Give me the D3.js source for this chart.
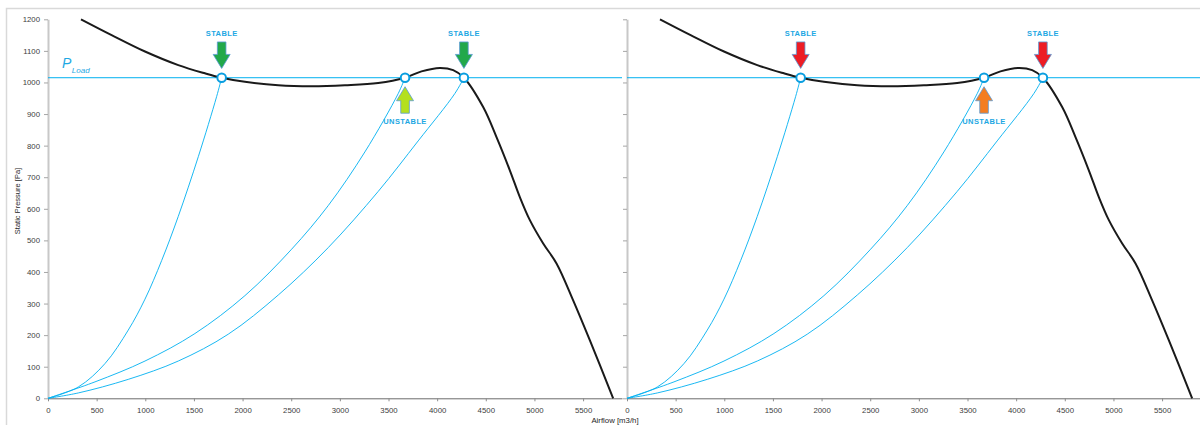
<!DOCTYPE html>
<html>
<head>
<meta charset="utf-8">
<script src="https://cdn.jsdelivr.net/npm/d3@7"></script>
<style>
  html, body { margin: 0; padding: 0; background: #fff; }
  svg { display: block; }
  text { font-family: "Liberation Sans", Arial, sans-serif; }
</style>
</head>
<body>
<svg id="chart" width="1200" height="425"></svg>
<script>
// ---------- DATA ----------
const flowTicks = [0, 500, 1000, 1500, 2000, 2500, 3000, 3500, 4000, 4500, 5000, 5500];
const pressureTicks = [0, 100, 200, 300, 400, 500, 600, 700, 800, 900, 1000, 1100, 1200];

// Fan curve (airflow m3/h, static pressure Pa)
const fanFlow =     [339, 654, 997, 1339, 1613, 1785, 2024, 2367, 2709, 3052, 3394, 3670, 3839, 4028, 4165, 4275, 4473, 4610, 4747, 4850, 4953, 5090, 5227, 5398, 5569, 5809];
const fanPressure = [1200, 1150, 1098, 1055, 1029, 1015, 1002, 991, 988, 991, 998, 1015, 1035, 1046, 1039, 1015, 922, 827, 722, 637, 564, 490, 427, 310, 184, 0];

// System (load) curves
const sys1Flow =     [0, 312, 586, 825, 997, 1168, 1339, 1545, 1733, 1785];
const sys1Pressure = [0, 36, 110, 216, 314, 436, 576, 765, 955, 1015];
const sys2Flow =     [0, 483, 997, 1510, 2024, 2504, 2880, 3257, 3600, 3670];
const sys2Pressure = [0, 52, 118, 205, 325, 472, 610, 780, 965, 1015];
const sys3Flow =     [0, 312, 825, 1339, 1853, 2367, 2880, 3394, 3805, 4182, 4275];
const sys3Pressure = [0, 17, 60, 118, 203, 327, 477, 655, 815, 965, 1015];

// Load pressure and operating points
const loadPressure = 1015;
const opFlow = [1785, 3670, 4275];
const opLabel = ["STABLE", "UNSTABLE", "STABLE"];

// Arrow colours per panel
const leftArrowColors = ["#22a84a", "#b4e01e", "#22a84a"];
const rightArrowColors = ["#ed1c24", "#f47d20", "#ed1c24"];

// ---------- DRAW ----------
const svg = d3.select("#chart");
const blue = "#00b0f0";
const plotW = 574, plotTop = 19.3, plotBottom = 398.3;

// outer frame
svg.append("rect").attr("x", 6.5).attr("y", 8.5).attr("width", 1220).attr("height", 440)
  .attr("fill", "none").attr("stroke", "#d9d9d9").attr("stroke-width", 1.5);

const y = d3.scaleLinear().domain([0, 1200]).range([plotBottom, plotTop]);

function toPts(fx, py) { return fx.map((f, i) => [f, py[i]]); }

function drawPanel(x0, showYLabels, arrowColors) {
  const x = d3.scaleLinear().domain([0, 5900]).range([x0, x0 + plotW]);
  const g = svg.append("g");

  // y axis
  const yAxis = d3.axisLeft(y).tickValues(pressureTicks).tickSize(4).tickSizeOuter(0)
    .tickFormat(showYLabels ? d3.format("d") : () => "");
  const ya = g.append("g").attr("transform", `translate(${x0},0)`).call(yAxis);
  ya.select(".domain").attr("stroke", "#c8c8c8").attr("stroke-width", 2);
  ya.selectAll(".tick line").attr("stroke", "#a6a6a6");
  ya.selectAll(".tick text").attr("x", -8).attr("fill", "#404040")
    .style("font-size", "7.8px");

  // x axis
  const xAxis = d3.axisBottom(x).tickValues(flowTicks).tickSize(3).tickSizeOuter(0)
    .tickFormat(d3.format("d"));
  const xa = g.append("g").attr("transform", `translate(0,${plotBottom})`).call(xAxis);
  xa.select(".domain").attr("stroke", "#6b6b6b").attr("stroke-width", 1);
  xa.selectAll(".tick line").attr("stroke", "#8c8c8c");
  xa.selectAll(".tick text").attr("y", 9).attr("fill", "#404040")
    .style("font-size", "7.8px");

  // load line
  g.append("line").attr("x1", x0).attr("x2", x0 + plotW)
    .attr("y1", y(loadPressure)).attr("y2", y(loadPressure))
    .attr("stroke", blue).attr("stroke-width", 1);

  // system curves
  const sysLine = d3.line().x(d => x(d[0])).y(d => y(d[1])).curve(d3.curveCatmullRom.alpha(0.5));
  [[sys1Flow, sys1Pressure], [sys2Flow, sys2Pressure], [sys3Flow, sys3Pressure]].forEach(([f, p]) => {
    g.append("path").attr("d", sysLine(toPts(f, p)))
      .attr("fill", "none").attr("stroke", blue).attr("stroke-width", 0.9);
  });

  // fan curve
  const fanLine = d3.line().x(d => x(d[0])).y(d => y(d[1])).curve(d3.curveCatmullRom.alpha(0.5));
  g.append("path").attr("d", fanLine(toPts(fanFlow, fanPressure)))
    .attr("fill", "none").attr("stroke", "#1a1a1a").attr("stroke-width", 2);

  // operating points
  g.selectAll("circle.op").data(opFlow).join("circle")
    .attr("cx", d => x(d)).attr("cy", y(loadPressure)).attr("r", 4.3)
    .attr("fill", "#fff").attr("stroke", "#0a9ee0").attr("stroke-width", 2);

  // arrows + labels
  opFlow.forEach((f, i) => {
    const cx = x(f), cy = y(loadPressure);
    const down = opLabel[i] === "STABLE";
    const sw = 4.3, hw = 8.5, hl = 14, sl = 12.5;
    let pts;
    if (down) {
      const tip = cy - 9.3;
      pts = [[cx - sw, tip - hl - sl], [cx + sw, tip - hl - sl], [cx + sw, tip - hl], [cx + hw, tip - hl],
             [cx, tip], [cx - hw, tip - hl], [cx - sw, tip - hl]];
    } else {
      const tip = cy + 9;
      pts = [[cx - sw, tip + hl + sl], [cx + sw, tip + hl + sl], [cx + sw, tip + hl], [cx + hw, tip + hl],
             [cx, tip], [cx - hw, tip + hl], [cx - sw, tip + hl]];
    }
    g.append("path").attr("d", "M" + pts.map(p => p.join(",")).join("L") + "Z")
      .attr("fill", arrowColors[i]).attr("stroke", "#5b9bd5").attr("stroke-width", 0.8);
    g.append("text").attr("x", cx).attr("y", down ? cy - 41.5 : cy + 46.5)
      .attr("text-anchor", "middle").attr("fill", "#1ea8e3")
      .style("font-size", "7.5px").style("font-weight", "bold").style("letter-spacing", "0.4px")
      .text(opLabel[i]);
  });
  return x;
}

drawPanel(48, true, leftArrowColors);
drawPanel(627, false, rightArrowColors);

// P_Load label
const pl = svg.append("text").attr("x", 62).attr("y", 68).attr("fill", "#1ea8e3")
  .style("font-style", "italic");
pl.append("tspan").style("font-size", "14px").text("P");
pl.append("tspan").attr("dy", 4.5).attr("dx", 0.5).style("font-size", "8px").text("Load");

// axis titles
svg.append("text").attr("transform", "translate(20,201) rotate(-90)")
  .attr("text-anchor", "middle").attr("fill", "#262626").style("font-size", "7.5px")
  .text("Static Pressure [Pa]");
svg.append("text").attr("x", 615).attr("y", 422.5)
  .attr("text-anchor", "middle").attr("fill", "#262626").style("font-size", "7.8px")
  .text("Airflow [m3/h]");
</script>
</body>
</html>
